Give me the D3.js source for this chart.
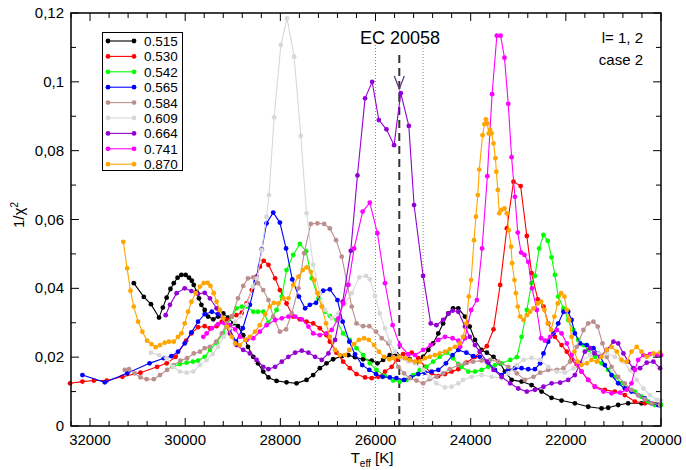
<!DOCTYPE html>
<html><head><meta charset="utf-8">
<script src="https://cdn.jsdelivr.net/npm/d3@7"></script>
<style>body{margin:0;background:#fff}svg{display:block}text{font-family:"Liberation Sans",Arial,Helvetica,sans-serif}</style>
</head><body><svg id="c" width="686" height="470"></svg>
<script>
const seriesNames = ["0.515","0.530","0.542","0.565","0.584","0.609","0.664","0.741","0.870"];
const seriesColors = ["#000000","#ff0000","#00ff00","#0000ff","#bc8f8f","#d8d8d8","#9400d3","#ff00ff","#ffa500"];
const xTicks = [32000,30000,28000,26000,24000,22000,20000];
const yTicks = [0,0.02,0.04,0.06,0.08,0.1,0.12];
const yTickLabels = ["0","0,02","0,04","0,06","0,08","0,1","0,12"];
const markerTeff = [26000, 25500, 25000];

const s515 = [[31080,.0415],[30870,.0375],[30720,.0354],[30550,.0315],[30470,.0344],[30390,.0373],[30310,.0398],[30240,.0415],[30160,.0431],[30080,.0439],[29990,.0439],[29920,.0431],[29860,.0422],[29820,.041],[29760,.039],[29710,.0371],[29660,.0352],[29590,.0337],[29520,.0318],[29410,.031],[29310,.0318],[29200,.0327],[29100,.0315],[28990,.0298],[28890,.029],[28780,.0264],[28680,.023],[28570,.0201],[28470,.0182],[28360,.0158],[28250,.0141],[28080,.0131],[27870,.0127],[27660,.0124],[27450,.0134],[27310,.0148],[27170,.0168],[27030,.0182],[26890,.0194],[26710,.0203],[26570,.0206],[26430,.02],[26260,.0194],[26080,.019],[25960,.0182],[25840,.0192],[25700,.0206],[25560,.0209],[25420,.0201],[25280,.0194],[25140,.0184],[25000,.0201],[24890,.0221],[24790,.024],[24680,.0269],[24580,.0298],[24470,.0327],[24370,.0342],[24260,.0342],[24120,.0318],[24020,.0289],[23910,.025],[23770,.0221],[23660,.0213],[23520,.0201],[23380,.0182],[23280,.0158],[23140,.0134],[22930,.0129],[22720,.0119],[22510,.01],[22300,.0082],[22090,.0074],[21810,.0066],[21530,.0056],[21250,.0051],[21110,.0053],[20900,.0061],[20690,.0066],[20410,.0066],[20130,.0063],[20020,.0061]];
const s530 = [[32420,.0124],[32160,.0129],[31920,.0132],[31650,.0132],[31320,.0143],[30940,.0155],[30590,.0172],[30390,.0182],[30200,.0201],[29980,.0248],[29870,.0269],[29730,.0287],[29590,.029],[29480,.0284],[29340,.029],[29230,.0303],[29130,.0308],[29020,.0318],[28920,.0322],[28810,.0329],[28710,.0356],[28600,.0395],[28500,.0434],[28430,.0463],[28350,.048],[28250,.0468],[28110,.0429],[28010,.0395],[27870,.0356],[27730,.0318],[27590,.031],[27450,.0303],[27310,.0298],[27170,.0284],[27030,.0264],[26960,.0245],[26820,.0213],[26680,.0187],[26540,.0168],[26400,.0151],[26220,.0141],[26080,.0139],[25940,.0143],[25800,.0158],[25660,.0172],[25560,.0192],[25420,.0209],[25240,.0213],[25100,.0197],[24960,.0172],[24820,.0153],[24680,.0145],[24540,.0151],[24400,.0158],[24260,.0165],[24090,.0184],[23910,.0201],[23660,.0232],[23520,.0281],[23380,.041],[23240,.0574],[23100,.071],[22950,.0697],[22820,.0552],[22720,.0444],[22590,.0368],[22470,.0347],[22370,.0298],[22230,.0259],[22090,.0235],[21980,.0216],[21880,.0192],[21770,.0177],[21670,.0158],[21530,.0134],[21390,.0114],[21180,.0105],[20970,.01],[20760,.009],[20550,.0071],[20340,.0066],[20130,.0063],[20020,.0061]];
const s542 = [[30260,.0172],[30110,.018],[29970,.0184],[29840,.0187],[29730,.019],[29590,.0201],[29480,.0221],[29340,.0242],[29210,.0269],[29130,.0289],[29020,.0318],[28920,.0342],[28810,.0347],[28710,.0347],[28570,.0332],[28470,.0332],[28360,.0332],[28250,.03],[28080,.0337],[27970,.0376],[27870,.0453],[27730,.0497],[27590,.0529],[27460,.0508],[27340,.0429],[27200,.0371],[27060,.0332],[26960,.032],[26820,.0308],[26680,.0269],[26540,.025],[26400,.0226],[26260,.0206],[26120,.0182],[25980,.0163],[25800,.0145],[25630,.0132],[25490,.0129],[25350,.0134],[25210,.0148],[25070,.0163],[24930,.0172],[24790,.0187],[24650,.0201],[24500,.0213],[24370,.0197],[24260,.018],[24190,.0172],[24050,.0158],[23910,.0158],[23770,.0163],[23630,.0172],[23490,.0177],[23350,.0182],[23170,.0192],[23030,.02],[22930,.0259],[22820,.0337],[22720,.0415],[22650,.0436],[22560,.0516],[22470,.0555],[22380,.0538],[22300,.049],[22230,.0439],[22160,.0376],[22050,.0342],[21950,.0308],[21840,.0279],[21740,.025],[21630,.0235],[21530,.0221],[21390,.0201],[21250,.0182],[21110,.0163],[20970,.0143],[20830,.0124],[20690,.0109],[20550,.01],[20410,.0085],[20270,.0071],[20130,.0061],[20000,.0061]];
const s565 = [[32160,.0148],[31690,.0127],[31220,.0153],[30750,.0182],[30450,.0197],[30290,.0203],[30150,.0216],[30010,.024],[29870,.0272],[29730,.0303],[29590,.0325],[29440,.0332],[29310,.0325],[29190,.0308],[29070,.0281],[28930,.0245],[28790,.0284],[28640,.0352],[28520,.0419],[28390,.0513],[28290,.0589],[28150,.062],[28010,.0591],[27880,.0516],[27750,.0426],[27610,.0376],[27480,.0342],[27380,.0352],[27250,.0358],[27100,.0393],[26960,.0397],[26800,.0366],[26690,.0303],[26550,.0245],[26430,.0208],[26280,.0177],[26130,.0163],[25990,.0151],[25850,.0143],[25700,.0141],[25560,.0139],[25400,.0134],[25260,.0141],[25100,.0151],[24960,.0155],[24820,.0158],[24680,.0163],[24520,.0182],[24380,.0206],[24260,.0221],[24090,.0213],[23950,.0203],[23810,.0201],[23630,.0184],[23490,.0163],[23350,.0148],[23210,.0163],[23070,.0168],[22930,.0168],[22790,.0165],[22650,.0165],[22540,.0182],[22470,.0211],[22370,.0245],[22260,.0269],[22160,.0298],[22050,.0332],[21950,.0332],[21880,.0308],[21810,.0269],[21700,.024],[21560,.0235],[21420,.0226],[21320,.0211],[21180,.0177],[21040,.0148],[20900,.0124],[20760,.0109],[20620,.01],[20480,.009],[20340,.008],[20200,.0066],[20060,.0061]];
const s584 = [[31270,.0163],[31180,.0165],[31060,.0153],[30940,.0141],[30810,.0136],[30660,.0136],[30530,.0148],[30380,.0163],[30240,.0177],[30100,.019],[29960,.0197],[29820,.0211],[29690,.0216],[29590,.0226],[29480,.023],[29350,.0245],[29230,.0269],[29130,.0298],[29020,.0318],[28890,.0371],[28780,.0407],[28680,.0429],[28570,.0432],[28470,.0415],[28360,.0395],[28250,.0366],[28150,.0318],[28010,.0274],[27880,.0281],[27760,.0327],[27620,.04],[27500,.0502],[27360,.0587],[27220,.0589],[27080,.0587],[26960,.0574],[26830,.054],[26710,.0492],[26590,.041],[26500,.0347],[26400,.0298],[26260,.029],[26130,.029],[25990,.0274],[25870,.0255],[25730,.024],[25630,.0201],[25520,.0172],[25400,.0153],[25280,.0139],[25140,.0132],[25000,.0124],[24860,.0136],[24720,.0143],[24580,.0153],[24440,.0165],[24260,.0177],[24120,.0182],[23950,.0187],[23770,.019],[23590,.0192],[23420,.0187],[23210,.0172],[23030,.0153],[22860,.0134],[22680,.0143],[22540,.0155],[22370,.0163],[22190,.0163],[22050,.0168],[21910,.0187],[21770,.023],[21630,.0279],[21530,.0298],[21420,.0303],[21330,.0289],[21230,.024],[21140,.0201],[21040,.0172],[20900,.0143],[20760,.0124],[20620,.0105],[20480,.009],[20340,.0078],[20200,.0066],[20020,.0061]];
const s609 = [[30720,.0213],[30550,.0206],[30390,.0197],[30250,.0172],[30110,.0158],[29970,.0155],[29830,.0158],[29690,.0177],[29550,.0192],[29420,.0209],[29310,.023],[29190,.0259],[29070,.0284],[28950,.0303],[28840,.0318],[28710,.0352],[28580,.0405],[28490,.0429],[28390,.0511],[28290,.0608],[28240,.0671],[28130,.0897],[27990,.1107],[27860,.1184],[27710,.1073],[27570,.0843],[27450,.0618],[27310,.0468],[27170,.0386],[27060,.0337],[26920,.0313],[26780,.0327],[26640,.0356],[26500,.0386],[26340,.0432],[26200,.0436],[26120,.0426],[26010,.0378],[25910,.0327],[25800,.0284],[25700,.0245],[25590,.0216],[25450,.0197],[25310,.0187],[25170,.0182],[25000,.0163],[24860,.0143],[24720,.0124],[24540,.0112],[24400,.0114],[24260,.0124],[24160,.0134],[23980,.0143],[23770,.0148],[23560,.0143],[23350,.0139],[23210,.0153],[23030,.0177],[22890,.0192],[22720,.0198],[22540,.0192],[22370,.0172],[22190,.0158],[22020,.0155],[21840,.0168],[21670,.0187],[21490,.0206],[21320,.0211],[21140,.0211],[20970,.0201],[20790,.0187],[20650,.0163],[20510,.0134],[20370,.0109],[20230,.009],[20090,.0076],[20000,.0074]];
const s664 = [[30410,.0322],[30320,.0352],[30180,.0386],[30010,.04],[29870,.0392],[29730,.0384],[29590,.0387],[29480,.0371],[29340,.0342],[29200,.0303],[29060,.0269],[28920,.0235],[28780,.0221],[28640,.0211],[28500,.0192],[28360,.0172],[28250,.0165],[28110,.0172],[27970,.0187],[27830,.0201],[27690,.0213],[27550,.0219],[27410,.0213],[27270,.0201],[27130,.0192],[26990,.0211],[26850,.025],[26690,.0361],[26520,.0509],[26380,.0728],[26220,.0952],[26070,.1],[25930,.0889],[25770,.0862],[25610,.0816],[25470,.0967],[25300,.0872],[25190,.0642],[25000,.0436],[24840,.0298],[24720,.0293],[24580,.0308],[24470,.0327],[24380,.0335],[24260,.0332],[24120,.0289],[24020,.0259],[23910,.0235],[23810,.0216],[23660,.0187],[23520,.0163],[23350,.0143],[23170,.0124],[23000,.0109],[22820,.01],[22650,.0105],[22470,.0114],[22300,.0124],[22120,.0126],[21950,.0134],[21810,.0148],[21700,.0182],[21600,.0216],[21490,.0226],[21400,.0211],[21280,.0201],[21140,.0221],[21000,.0245],[20900,.024],[20790,.0211],[20690,.0187],[20580,.0168],[20440,.0168],[20300,.0184],[20160,.0187],[20020,.0168]];
const s741 = [[29620,.0259],[29550,.0269],[29440,.0284],[29310,.0296],[29190,.03],[29070,.0293],[28950,.0281],[28850,.0259],[28710,.025],[28570,.0255],[28430,.0274],[28290,.0293],[28110,.0308],[27970,.0313],[27830,.0318],[27690,.0318],[27550,.031],[27410,.0289],[27310,.0269],[27170,.0264],[27030,.0269],[26920,.0279],[26780,.0313],[26680,.0356],[26570,.041],[26450,.0516],[26270,.0623],[26120,.0649],[25960,.056],[25800,.0415],[25640,.0293],[25490,.0235],[25310,.0208],[25170,.0206],[25000,.0221],[24840,.0235],[24680,.025],[24540,.0259],[24380,.0255],[24260,.0248],[24220,.023],[24120,.0255],[23990,.0337],[23870,.0366],[23760,.0516],[23650,.0726],[23550,.0964],[23450,.1134],[23370,.1134],[23290,.107],[23210,.0936],[23140,.0781],[23070,.0666],[23010,.0562],[22940,.0504],[22870,.0497],[22790,.0477],[22710,.04],[22610,.0337],[22520,.0255],[22440,.0248],[22330,.0259],[22190,.0279],[22090,.0269],[21980,.024],[21880,.0206],[21770,.0182],[21670,.0158],[21530,.0134],[21390,.0114],[21210,.01],[21040,.0095],[20860,.0097],[20720,.0105],[20620,.0124],[20550,.0163],[20480,.0192],[20370,.0206],[20230,.0209],[20090,.0206],[20000,.0206]];
const s870 = [[31300,.0535],[31220,.0458],[31150,.0393],[31080,.0347],[30990,.0303],[30900,.0274],[30800,.0248],[30710,.0238],[30620,.0229],[30530,.0235],[30430,.0242],[30340,.0245],[30240,.0245],[30150,.0259],[30080,.0269],[30010,.0298],[29940,.0332],[29870,.0361],[29780,.0386],[29690,.0405],[29610,.0415],[29530,.0416],[29470,.0407],[29400,.0386],[29340,.0361],[29270,.0337],[29200,.0313],[29120,.0289],[29020,.0259],[28950,.024],[28850,.0235],[28740,.025],[28640,.0259],[28530,.0274],[28430,.0293],[28320,.0325],[28220,.0347],[28140,.0358],[28040,.0356],[27940,.0371],[27830,.0371],[27730,.041],[27620,.0434],[27530,.0453],[27450,.0461],[27360,.0448],[27290,.0424],[27220,.0386],[27130,.0347],[27040,.0298],[26960,.0259],[26850,.0221],[26750,.0206],[26640,.0206],[26550,.0221],[26450,.0238],[26350,.025],[26240,.0255],[26140,.025],[26030,.0235],[25930,.0216],[25820,.0201],[25710,.0194],[25610,.0197],[25500,.0201],[25380,.0197],[25280,.0192],[25170,.0187],[25070,.0187],[24960,.0197],[24860,.0201],[24750,.0206],[24650,.0211],[24540,.0216],[24440,.0223],[24330,.023],[24230,.024],[24160,.0259],[24090,.0298],[24040,.0376],[23990,.0424],[23930,.054],[23890,.0608],[23850,.0671],[23820,.0745],[23750,.0845],[23710,.0877],[23680,.0891],[23650,.0879],[23620,.085],[23590,.086],[23560,.085],[23520,.0821],[23480,.0778],[23460,.0739],[23430,.0686],[23400,.0618],[23350,.0628],[23290,.0632],[23240,.0618],[23200,.0569],[23150,.0521],[23130,.0473],[23080,.0424],[23050,.0386],[23010,.0347],[22960,.0318],[22890,.0308],[22820,.0322],[22750,.0332],[22680,.0342],[22590,.0356],[22520,.0361],[22450,.0337],[22380,.0298],[22310,.0279],[22240,.0318],[22170,.0356],[22100,.0386],[22030,.0376],[21980,.0337],[21930,.0308],[21880,.0259],[21820,.0216],[21750,.0187],[21670,.0177],[21560,.0182],[21460,.0192],[21350,.0187],[21250,.0201],[21140,.0221],[21040,.023],[20930,.0216],[20830,.0192],[20720,.0187],[20620,.0216],[20510,.023],[20410,.0216],[20300,.0201],[20160,.0211],[20020,.0213]];
const allSeries = [s515,s530,s542,s565,s584,s609,s664,s741,s870];

const W=686,H=470, L=71,R=661,T=13,B=426;
const svg=d3.select("#c");
const x=d3.scaleLinear().domain([32400,20000]).range([L,R]);
const y=d3.scaleLinear().domain([0,0.12]).range([B,T]);

// reference vertical lines
const lines=svg.append("g");
lines.append("line").attr("x1",x(markerTeff[0])).attr("x2",x(markerTeff[0])).attr("y1",45).attr("y2",B)
  .attr("stroke","#888").attr("stroke-width",1).attr("stroke-dasharray","1,2");
lines.append("line").attr("x1",x(markerTeff[2])).attr("x2",x(markerTeff[2])).attr("y1",45).attr("y2",B)
  .attr("stroke","#888").attr("stroke-width",1).attr("stroke-dasharray","1,2");
lines.append("line").attr("x1",x(markerTeff[1])).attr("x2",x(markerTeff[1])).attr("y1",55).attr("y2",B)
  .attr("stroke","#333").attr("stroke-width",2).attr("stroke-dasharray","8,5");
const ax=x(markerTeff[1]);
lines.append("path").attr("d",`M${ax-5},${76} L${ax},${89} L${ax+5},${76}`).attr("fill","none").attr("stroke","#6a3a8a").attr("stroke-width",1.3);

// series
const lineGen=d3.line().x(d=>x(d[0])).y(d=>y(d[1]));
allSeries.forEach((s,i)=>{
  const g=svg.append("g");
  g.append("path").datum(s).attr("d",lineGen).attr("fill","none").attr("stroke",seriesColors[i]).attr("stroke-width",1.1);
  g.selectAll("circle").data(s).join("circle").attr("cx",d=>x(d[0])).attr("cy",d=>y(d[1])).attr("r",2.4).attr("fill",seriesColors[i]);
});

// axes frame and ticks
const ax1=svg.append("g");
ax1.append("rect").attr("x",L).attr("y",T).attr("width",R-L).attr("height",B-T).attr("fill","none").attr("stroke","#000").attr("stroke-width",1.5);
const xMinor=d3.range(32400,19999,-400);
xMinor.forEach(v=>{
  const major = xTicks.includes(v);
  const len = major?8:5;
  ax1.append("line").attr("x1",x(v)).attr("x2",x(v)).attr("y1",B).attr("y2",B-len).attr("stroke","#000");
  ax1.append("line").attr("x1",x(v)).attr("x2",x(v)).attr("y1",T).attr("y2",T+len).attr("stroke","#000");
});
const yMinor=d3.range(0,0.1201,0.01);
yMinor.forEach((v,k)=>{
  const major = k%2===0;
  const len = major?8:5;
  ax1.append("line").attr("x1",L).attr("x2",L+len).attr("y1",y(v)).attr("y2",y(v)).attr("stroke","#000");
  ax1.append("line").attr("x1",R).attr("x2",R-len).attr("y1",y(v)).attr("y2",y(v)).attr("stroke","#000");
});
xTicks.forEach(v=>{
  ax1.append("text").attr("x",x(v)).attr("y",445).attr("text-anchor","middle").attr("font-size",15).text(String(v));
});
yTicks.forEach((v,k)=>{
  ax1.append("text").attr("x",64).attr("y",y(v)+5).attr("text-anchor","end").attr("font-size",15).text(yTickLabels[k]);
});
// axis titles
const xl=svg.append("text").attr("x",372).attr("y",463).attr("text-anchor","middle").attr("font-size",15);
xl.append("tspan").text("T");
xl.append("tspan").attr("font-size",10).attr("dy",4).text("eff");
xl.append("tspan").attr("dy",-4).text(" [K]");
const yl=svg.append("text").attr("transform","translate(24,215) rotate(-90)").attr("text-anchor","middle").attr("font-size",15);
yl.append("tspan").text("1/χ");
yl.append("tspan").attr("font-size",10).attr("dy",-6).text("2");

// annotations
svg.append("text").attr("x",400).attr("y",44).attr("text-anchor","middle").attr("font-size",18).text("EC 20058");
svg.append("text").attr("x",643).attr("y",43).attr("text-anchor","end").attr("font-size",15).text("l= 1, 2");
svg.append("text").attr("x",643).attr("y",65).attr("text-anchor","end").attr("font-size",15).text("case 2");

// legend
const lg=svg.append("g");
lg.append("rect").attr("x",102.5).attr("y",32.5).attr("width",80).attr("height",138).attr("fill","#fff").attr("stroke","#000").attr("stroke-width",1);
seriesNames.forEach((n,i)=>{
  const yy=41+i*15.4;
  lg.append("line").attr("x1",108).attr("x2",134).attr("y1",yy).attr("y2",yy).attr("stroke",seriesColors[i]).attr("stroke-width",1.1);
  lg.append("circle").attr("cx",108).attr("cy",yy).attr("r",2.4).attr("fill",seriesColors[i]);
  lg.append("circle").attr("cx",134).attr("cy",yy).attr("r",2.4).attr("fill",seriesColors[i]);
  lg.append("text").attr("x",144).attr("y",yy+5).attr("font-size",13.5).text(n);
});
</script></body></html>
